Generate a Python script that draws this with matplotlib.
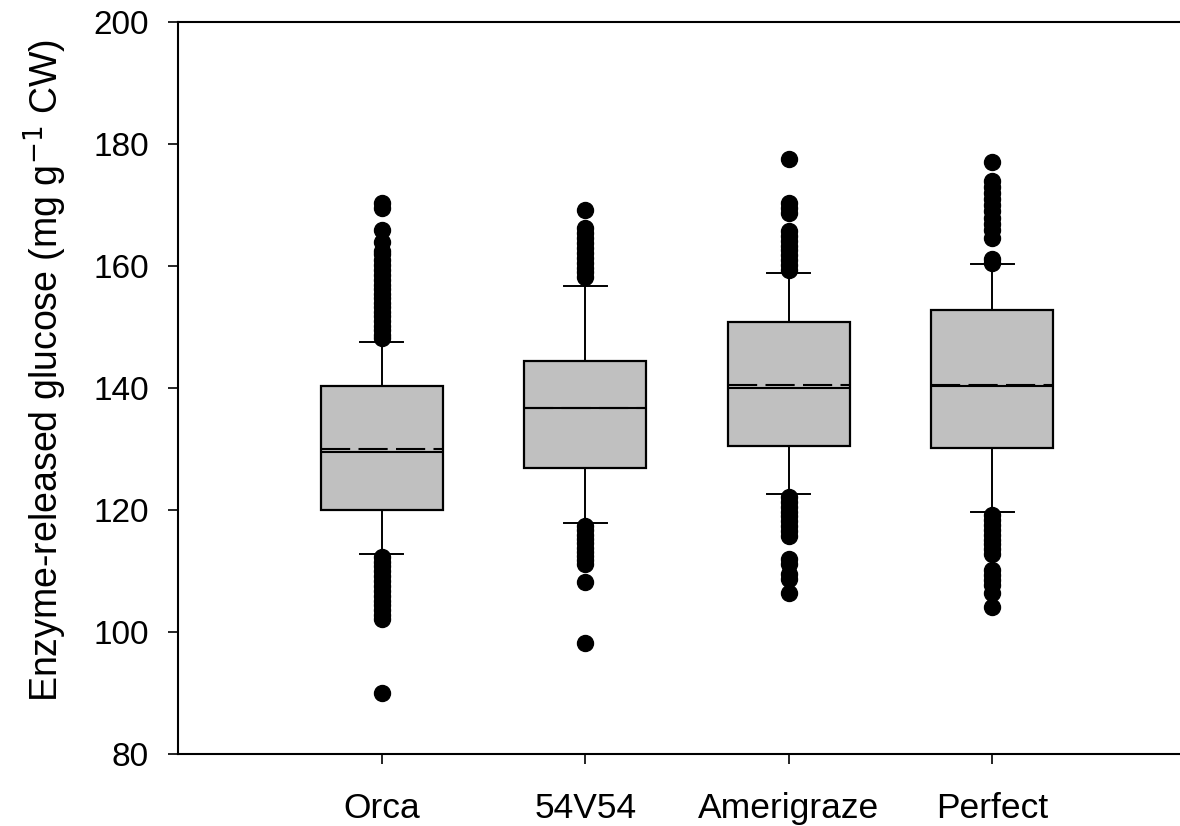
import matplotlib
matplotlib.use("Agg")
import matplotlib.pyplot as plt

plt.rcParams['font.family'] = ['Liberation Sans', 'DejaVu Sans']

categories = ["Orca", "54V54", "Amerigraze", "Perfect"]
q1 = [120.0, 126.9, 130.5, 130.2]
medians = [129.6, 136.7, 140.0, 140.4]
q3 = [140.4, 144.5, 150.8, 152.8]
means = [130.1, 136.8, 140.6, 140.6]
whislo = [112.8, 118.0, 122.6, 119.8]
whishi = [147.6, 156.8, 158.9, 160.4]

fliers_orca = [148.2, 148.8, 149.5, 150.2, 151.0, 151.8, 152.5, 153.3, 154.0, 154.8,
               155.5, 156.3, 157.0, 157.8, 158.6, 159.4, 160.2, 161.0, 162.0, 162.5,
               164.0, 166.0, 169.6, 170.3,
               112.3, 111.6, 110.8, 110.0, 109.2, 108.4, 107.6, 106.8, 106.0, 105.2,
               104.4, 103.6, 102.8, 102.2, 90.1]
fliers_54v54 = [158.3, 159.0, 159.8, 160.6, 161.4, 162.2, 163.0, 163.8, 164.6, 165.4,
                166.2, 169.2,
                117.5, 116.8, 116.0, 115.3, 114.6, 113.9, 113.2, 112.5, 111.8, 111.2,
                108.2, 98.2]
fliers_amerigraze = [159.4, 160.2, 161.0, 161.8, 162.6, 163.4, 164.2, 165.0, 165.8,
                     168.8, 169.6, 170.4, 177.6,
                     122.2, 121.4, 120.6, 119.8, 119.0, 118.2, 117.4, 116.6, 115.8,
                     112.0, 111.2, 109.5, 108.8, 106.5]
fliers_perfect = [160.6, 161.2, 164.6, 166.0, 167.0, 168.0, 169.0, 170.0, 171.0,
                  172.0, 173.0, 174.0, 177.1,
                  119.2, 118.4, 117.6, 116.8, 116.0, 115.2, 114.4, 113.6, 112.8,
                  110.2, 109.4, 108.6, 107.8, 106.4, 104.2]
fliers = [fliers_orca, fliers_54v54, fliers_amerigraze, fliers_perfect]

yticks = [80, 100, 120, 140, 160, 180, 200]

stats = []
for i, c in enumerate(categories):
    stats.append(dict(label=c, q1=q1[i], med=medians[i], q3=q3[i], mean=means[i],
                      whislo=whislo[i], whishi=whishi[i], fliers=fliers[i]))

fig = plt.figure(figsize=(11.8, 8.26), dpi=100)
W, H = 1180, 826
ax = fig.add_axes([178 / W, (826 - 754.3) / H, (1196 - 178) / W, (754.3 - 22.3) / H])

positions = [1, 2, 3, 4]
ax.bxp(stats, positions=positions, widths=0.6, capwidths=0.21,
       patch_artist=True, showmeans=True, meanline=True,
       boxprops=dict(facecolor='#c0c0c0', edgecolor='black', linewidth=1.6),
       whiskerprops=dict(color='black', linewidth=1.4),
       capprops=dict(color='black', linewidth=1.4),
       medianprops=dict(color='black', linewidth=1.5),
       meanprops=dict(color='black', linewidth=1.5, linestyle=(0, (14, 4))),
       flierprops=dict(marker='o', markerfacecolor='black', markeredgecolor='black',
                       markersize=11.5, linestyle='none'))

ax.set_xlim(0, 5)
ax.set_ylim(80, 200)
ax.set_yticks(yticks)
ax.set_xticks(positions)
ax.set_xticklabels(categories)
ax.tick_params(axis='both', direction='out', length=7, width=1.2,
               top=False, right=False)
ax.tick_params(axis='y', pad=14, labelsize=24)
ax.tick_params(axis='x', pad=20, labelsize=25.5)
for s in ax.spines.values():
    s.set_linewidth(1.5)

ax.set_ylabel('Enzyme-released glucose (mg g$^{-1}$ CW)', fontsize=27)
ax.yaxis.set_label_coords(-0.107, 0.525)

fig.savefig('out.png', dpi=100)
